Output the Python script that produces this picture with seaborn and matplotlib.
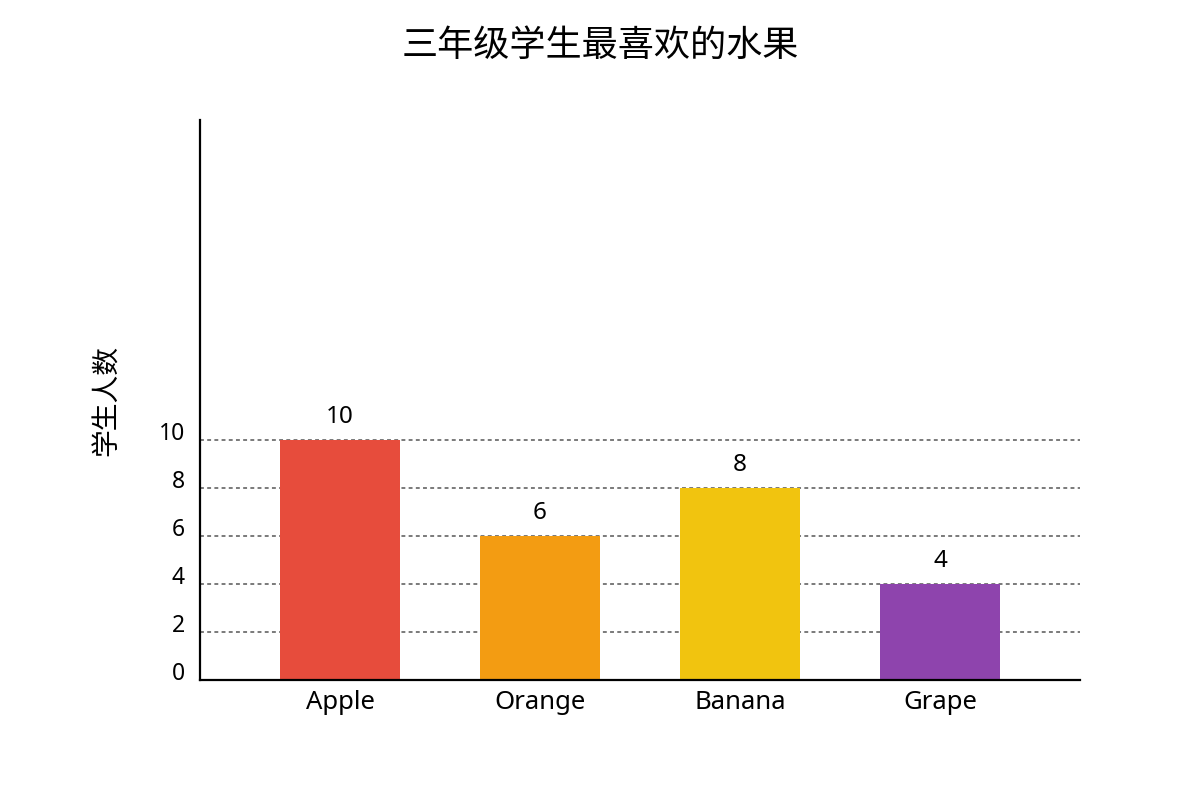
import seaborn as sns
import matplotlib.pyplot as plt
import pandas as pd

fruits = ["Apple", "Orange", "Banana", "Grape"]
counts = [10, 6, 8, 4]
colors = ["#E74C3C", "#F39C12", "#F1C40F", "#8E44AD"]
y_ticks = [0, 2, 4, 6, 8, 10]

df = pd.DataFrame({"fruit": fruits, "count": counts})

sns.set_theme(style="white")
plt.rcParams["font.family"] = ["Noto Sans", "Noto Sans CJK SC", "DejaVu Sans"]

fig = plt.figure(figsize=(12, 8), dpi=100)
ax = fig.add_axes([200 / 1200, 0.15, 880 / 1200, 0.70])

sns.barplot(data=df, x="fruit", y="count", hue="fruit", palette=colors,
            width=0.6, saturation=1, legend=False, linewidth=0, ax=ax)

ax.set_xlim(-0.7, 3.7)
ax.set_ylim(0, 560 / 24)
ax.set_yticks(y_ticks)
ax.set_axisbelow(True)
ax.yaxis.grid(True, linestyle=(0, (2.0, 1.7)), color="#7a7a7a", linewidth=1.4)

for c in ax.containers:
    ax.bar_label(c, padding=8, fontsize=17.5, color="black")

ax.tick_params(axis="y", length=0, pad=11, labelsize=16.5, colors="black")
ax.tick_params(axis="x", length=0, pad=7.5, labelsize=18.5, colors="black")
for lab in ax.get_yticklabels():
    lab.set_va("baseline")

for side in ["top", "right"]:
    ax.spines[side].set_visible(False)
for side in ["left", "bottom"]:
    ax.spines[side].set_color("black")
    ax.spines[side].set_linewidth(1.6)

ax.set_xlabel("")
ax.set_ylabel("学生人数", fontsize=20, color="black")
ax.yaxis.set_label_coords((122 - 200) / 880, 0.5)

fig.suptitle("三年级学生最喜欢的水果", fontsize=26, color="black",
             y=(800 - 47) / 800, va="center")

plt.savefig("out.png", dpi=100)
